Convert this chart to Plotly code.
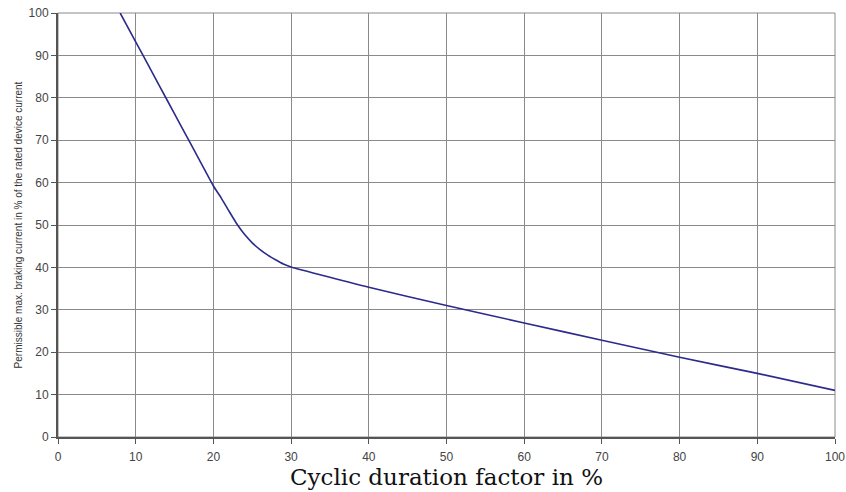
import plotly.graph_objects as go

duty = [8, 10, 12, 14, 16, 18, 20, 21, 22, 23, 24, 25, 26, 27, 28, 29, 30, 40, 50, 60, 70, 80, 90, 100]
current = [100, 93.2, 86.4, 79.6, 72.8, 66, 59.2, 56.4, 53.3, 50.3, 47.8, 45.8, 44.2, 42.9, 41.8, 40.8, 40.1,
           35.3, 31, 26.9, 22.8, 18.8, 15, 11]

x_ticks = list(range(0, 101, 10))
y_ticks = list(range(0, 101, 10))

fig = go.Figure()
fig.add_trace(go.Scatter(x=duty, y=current, mode="lines",
                         line=dict(color="#2b2b8c", width=1.6, shape="spline", smoothing=0.4),
                         showlegend=False, hoverinfo="skip"))

fig.update_layout(
    width=846, height=492,
    margin=dict(l=58, r=11, t=13, b=55, autoexpand=False),
    paper_bgcolor="white", plot_bgcolor="white",
    font=dict(family="Liberation Sans, Arial", size=12, color="#444444"),
)
fig.update_xaxes(range=[0, 100], tickvals=x_ticks, ticks="outside", ticklen=5, tickcolor="#555",
                 ticklabelstandoff=3,
                 showgrid=True, gridcolor="#8a8a8a", gridwidth=1, automargin=False,
                 showline=True, linecolor="#555", linewidth=2, mirror=False,
                 zeroline=False,
                 title=dict(text="Cyclic duration factor in %",
                            font=dict(family="DejaVu Serif", size=23, color="#111"), standoff=5))
fig.update_yaxes(range=[0, 100], tickvals=y_ticks, ticks="outside", ticklen=5, tickcolor="#555",
                 showgrid=True, gridcolor="#8a8a8a", gridwidth=1, automargin=False,
                 showline=True, linecolor="#555", linewidth=2,
                 zeroline=False,
                 title=dict(text="Permissible max. braking current in % of the rated device current",
                            font=dict(family="Liberation Sans, Arial", size=10, color="#333"), standoff=4))
fig.add_shape(type="rect", xref="paper", yref="paper", x0=0, y0=0, x1=1, y1=1,
              line=dict(color="#8a8a8a", width=1), layer="below")

fig.write_html("out.html", config={"displayModeBar": False},
               post_script="document.body.style.margin='0';document.body.style.overflow='hidden';")
